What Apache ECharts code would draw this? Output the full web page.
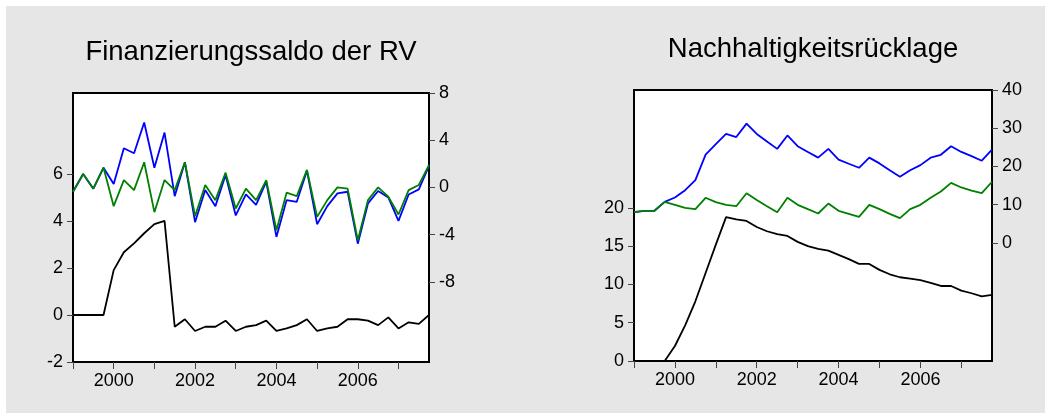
<!DOCTYPE html>
<html>
<head>
<meta charset="utf-8">
<script src="https://cdn.jsdelivr.net/npm/echarts@6/dist/echarts.min.js"></script>
<style>
body { margin: 0; background: #fff; }
#bg { position: absolute; left: 6px; top: 6px; width: 1039px; height: 407px; background: #e6e6e6; }
#main { position: absolute; left: 0; top: 0; width: 1058px; height: 413px; }
</style>
</head>
<body>
<div id="bg"></div>
<div id="main"></div>
<script>
// quarterly categories 1999Q1 .. 2007Q4
const quarters = [];
for (let y = 1999; y <= 2007; y++) {
    for (let q = 1; q <= 4; q++) quarters.push(y + 'Q' + q);
}

// Finanzierungssaldo der RV
const saldoBlack = [0, 0, 0, 0, 1.91, 2.67, 3.05, 3.48, 3.87, 4.01, -0.5, -0.18,
    -0.68, -0.5, -0.5, -0.24, -0.68, -0.5, -0.43, -0.24, -0.68, -0.57, -0.43, -0.18,
    -0.68, -0.57, -0.5, -0.18, -0.18, -0.24, -0.43, -0.1, -0.57, -0.31, -0.38, 0];
const saldoBlue = [-0.37, 1.13, -0.11, 1.67, 0.28, 3.32, 2.89, 5.5, 1.67, 4.65, -0.74, 2.13,
    -2.95, -0.23, -1.59, 1.05, -2.38, -0.6, -1.48, 0.48, -4.2, -1.08, -1.22, 1.42,
    -3.12, -1.59, -0.51, -0.37, -4.77, -1.36, -0.31, -0.85, -2.84, -0.6, -0.17, 1.82];
const saldoGreen = [-0.37, 1.13, -0.11, 1.67, -1.59, 0.62, -0.23, 2.13, -2.1, 0.62, -0.23, 2.13,
    -2.44, 0.2, -1.08, 1.25, -1.79, -0.11, -1.08, 0.62, -3.63, -0.45, -0.74, 1.48,
    -2.5, -1.08, 0, -0.11, -4.48, -1.08, 0, -0.79, -2.3, -0.23, 0.2, 1.9];

// Nachhaltigkeitsrücklage
const reserveBlack = [null, null, null, 0, 1.96, 4.66, 7.8, 11.5, 15.2, 18.8, 18.5, 18.3,
    17.5, 16.95, 16.56, 16.34, 15.56, 15.0, 14.64, 14.42, 13.86, 13.3, 12.68, 12.68,
    11.9, 11.33, 10.94, 10.76, 10.55, 10.2, 9.8, 9.8, 9.19, 8.85, 8.45, 8.63];
const reserveBlue = [8.03, 8.4, 8.4, 10.74, 11.88, 13.8, 16.4, 23.1, 25.85, 28.5, 27.7, 31.2,
    28.5, 26.55, 24.6, 28.1, 25.3, 23.8, 22.3, 24.6, 21.8, 20.7, 19.65, 22.3,
    20.8, 19.0, 17.3, 19.0, 20.35, 22.3, 23.05, 25.3, 23.8, 22.7, 21.5, 24.4];
const reserveGreen = [8.03, 8.4, 8.4, 10.74, 9.96, 9.17, 8.82, 11.8, 10.65, 9.96, 9.6, 13.0,
    11.2, 9.6, 8.03, 11.8, 9.96, 8.82, 7.69, 10.3, 8.4, 7.6, 6.8, 9.96,
    8.82, 7.6, 6.46, 8.82, 9.96, 11.8, 13.45, 15.7, 14.5, 13.7, 13.0, 16.0];

// tick labels
const saldoLeftTicks = [-2, 0, 2, 4, 6];
const saldoRightTicks = [-8, -4, 0, 4, 8];
const reserveLeftTicks = [0, 5, 10, 15, 20];
const reserveRightTicks = [0, 10, 20, 30, 40];

const font = 'Liberation Sans, Arial, sans-serif';
const tickStyle = { color: '#444', width: 1 };
const labelStyle = { color: '#000', fontSize: 18, fontFamily: font };

function xAxis(gridIndex) {
    return {
        type: 'category',
        gridIndex: gridIndex,
        data: quarters,
        boundaryGap: false,
        axisLine: { show: false, onZero: false },
        axisTick: { show: true, length: 7, lineStyle: tickStyle, interval: (i) => i % 4 === 0 },
        axisLabel: Object.assign({ margin: 10, interval: (i) => i % 8 === 4, formatter: (v) => v.slice(0, 4) }, labelStyle),
        splitLine: { show: false }
    };
}

function yAxis(gridIndex, position, min, max, ticks) {
    return {
        type: 'value',
        gridIndex: gridIndex,
        position: position,
        min: min,
        max: max,
        axisLine: { show: false, onZero: false },
        axisTick: { show: true, length: 6, lineStyle: tickStyle, customValues: ticks },
        axisLabel: Object.assign({ margin: 10, customValues: ticks }, labelStyle),
        splitLine: { show: false }
    };
}

function line(data, color, xi, yi) {
    return {
        type: 'line',
        data: data,
        xAxisIndex: xi,
        yAxisIndex: yi,
        symbol: 'none',
        smooth: false,
        lineStyle: { color: color, width: 1.8 },
        itemStyle: { color: color }
    };
}

const chart = echarts.init(document.getElementById('main'));
chart.setOption({
    animation: false,
    grid: [
        { left: 73, top: 93, width: 356, height: 269, show: true, backgroundColor: '#fff', borderColor: '#000', borderWidth: 2 },
        { left: 634, top: 90, width: 358, height: 271, show: true, backgroundColor: '#fff', borderColor: '#000', borderWidth: 2 }
    ],
    graphic: [
        { type: 'text', x: 251, y: 52, style: { text: 'Finanzierungssaldo der RV', font: '27.5px ' + font, fill: '#000', textAlign: 'center', textVerticalAlign: 'middle' } },
        { type: 'text', x: 813, y: 49, style: { text: 'Nachhaltigkeitsrücklage', font: '27.5px ' + font, fill: '#000', textAlign: 'center', textVerticalAlign: 'middle' } }
    ],
    xAxis: [xAxis(0), xAxis(1)],
    yAxis: [
        yAxis(0, 'left', -2, 9.45, saldoLeftTicks),
        yAxis(0, 'right', -14.8, 8, saldoRightTicks),
        yAxis(1, 'left', 0, 35.4, reserveLeftTicks),
        yAxis(1, 'right', -30.9, 40, reserveRightTicks)
    ],
    series: [
        line(saldoBlack, '#000000', 0, 0),
        line(saldoBlue, '#0000ff', 0, 1),
        line(saldoGreen, '#008000', 0, 1),
        line(reserveBlack, '#000000', 1, 2),
        line(reserveBlue, '#0000ff', 1, 3),
        line(reserveGreen, '#008000', 1, 3)
    ]
});
</script>
</body>
</html>
